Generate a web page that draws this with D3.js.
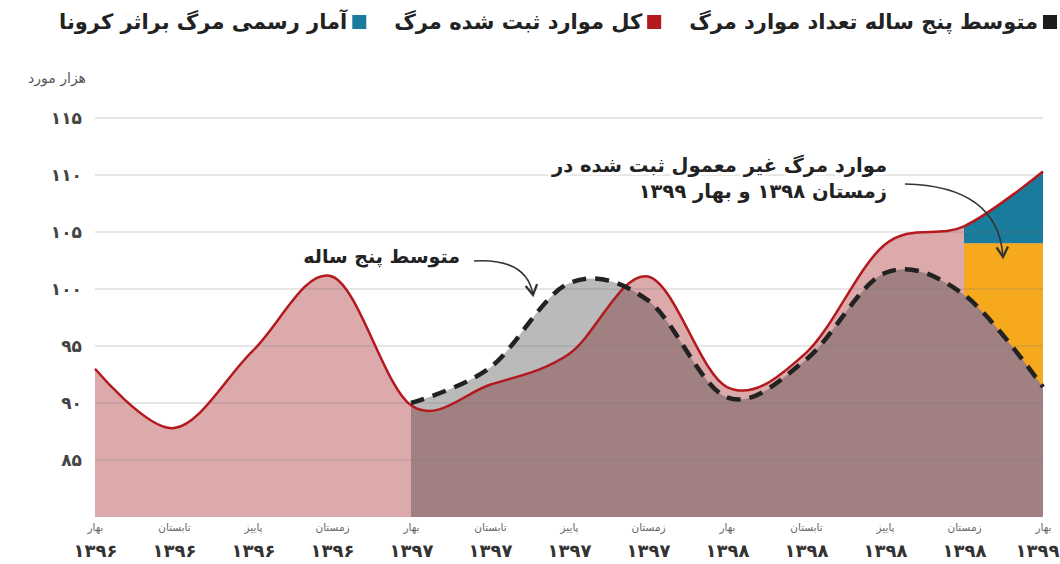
<!DOCTYPE html>
<html>
<head>
<meta charset="utf-8">
<script src="https://cdn.jsdelivr.net/npm/d3@7"></script>
<style>
  body { margin: 0; background: #fff; }
  text { font-family: "DejaVu Sans", sans-serif; }
</style>
</head>
<body>
<div id="chart"></div>
<script>
// quarters (season + year), left to right
var seasons = ["بهار", "تابستان", "پاییز", "زمستان", "بهار", "تابستان", "پاییز", "زمستان", "بهار", "تابستان", "پاییز", "زمستان", "بهار"];
var years   = ["۱۳۹۶", "۱۳۹۶", "۱۳۹۶", "۱۳۹۶", "۱۳۹۷", "۱۳۹۷", "۱۳۹۷", "۱۳۹۷", "۱۳۹۸", "۱۳۹۸", "۱۳۹۸", "۱۳۹۸", "۱۳۹۹"];

// thousand deaths
var totalDeaths = [93.0, 87.8, 94.6, 101.1, 89.8, 91.6, 94.3, 101.1, 91.4, 94.4, 103.9, 105.5, 110.3];
var fiveYearAvg = [null, null, null, null, 90.0, 93.1, 100.5, 99.0, 90.5, 93.8, 101.4, 99.5, 91.4];
// level under which deaths are not officially counted as covid (winter 98 & spring 99)
var covidStart = 11;
var covidLevel = 104;

var yTicks = [85, 90, 95, 100, 105, 110, 115];

var legendItems = [
  {label: "متوسط پنج ساله تعداد موارد مرگ", color: "#1d1d1d"},
  {label: "کل موارد ثبت شده مرگ", color: "#b3191f"},
  {label: "آمار رسمی مرگ براثر کرونا", color: "#1a7c9c"}
];

var faDigits = "۰۱۲۳۴۵۶۷۸۹";
function fa(n) { return String(n).replace(/[0-9]/g, function(d){ return faDigits[+d]; }); }

var W = 1060, H = 564;
var svg = d3.select("#chart").append("svg").attr("width", W).attr("height", H);

var x = d3.scaleLinear().domain([0, seasons.length - 1]).range([95, 1043]);
var y = d3.scaleLinear().domain([80, 115]).range([517, 118]);

var data = seasons.map(function(s, i){ return {i: i, total: totalDeaths[i], avg: fiveYearAvg[i]}; });
var avgData = data.filter(function(d){ return d.avg != null; });

var curve = d3.curveCardinal.tension(0);

var totalArea = d3.area().curve(curve)
  .x(function(d){ return x(d.i); }).y0(y(80)).y1(function(d){ return y(d.total); });
var avgArea = d3.area().curve(curve)
  .x(function(d){ return x(d.i); }).y0(y(80)).y1(function(d){ return y(d.avg); });
var totalLine = d3.line().curve(curve)
  .x(function(d){ return x(d.i); }).y(function(d){ return y(d.total); });
var avgLine = d3.line().curve(curve)
  .x(function(d){ return x(d.i); }).y(function(d){ return y(d.avg); });

var defs = svg.append("defs");
defs.append("clipPath").attr("id", "clip-total").append("path").attr("d", totalArea(data));
defs.append("clipPath").attr("id", "clip-avg").append("path").attr("d", avgArea(avgData));

var g = svg.append("g");

// all registered deaths
g.append("path").attr("d", totalArea(data)).attr("fill", "#dcaaab");
// five year average above registered
g.append("path").attr("d", avgArea(avgData)).attr("fill", "#bababa");

// covid block
var xc0 = x(covidStart), xc1 = x(seasons.length - 1);
g.append("rect")
  .attr("x", xc0).attr("width", xc1 - xc0)
  .attr("y", 0).attr("height", y(covidLevel))
  .attr("clip-path", "url(#clip-total)")
  .attr("fill", "#1a7c9c");
g.append("rect")
  .attr("x", xc0).attr("width", xc1 - xc0)
  .attr("y", y(covidLevel)).attr("height", y(80) - y(covidLevel))
  .attr("fill", "#f6a91d");

// overlap of registered and average
g.append("path").attr("d", totalArea(data))
  .attr("clip-path", "url(#clip-avg)")
  .attr("fill", "#a08080");

// grid
g.append("g").selectAll("line")
  .data(yTicks)
  .enter().append("line")
    .attr("x1", 95).attr("x2", 1043)
    .attr("y1", function(d){ return y(d); })
    .attr("y2", function(d){ return y(d); })
    .attr("stroke", "#777")
    .attr("stroke-opacity", 0.18)
    .attr("stroke-width", 2);

g.append("path").attr("d", totalLine(data))
  .attr("fill", "none").attr("stroke", "#b3191f").attr("stroke-width", 2.5);
g.append("path").attr("d", avgLine(avgData))
  .attr("fill", "none").attr("stroke", "#222").attr("stroke-width", 4.5)
  .attr("stroke-dasharray", "14,9");

// y axis
var yAxis = d3.axisLeft(y).tickValues(yTicks).tickSize(0).tickPadding(13)
  .tickFormat(function(d){ return fa(d); });
var ya = svg.append("g").attr("transform", "translate(95,0)").call(yAxis);
ya.select(".domain").remove();
ya.selectAll("text")
  .attr("font-size", 17).attr("font-weight", "bold").attr("fill", "#444");

svg.append("text")
  .attr("x", 86).attr("y", 83)
  .attr("text-anchor", "end")
  .attr("font-size", 14).attr("fill", "#555")
  .text("هزار مورد");

// x axis
var xAxis = d3.axisBottom(x).tickValues(d3.range(seasons.length)).tickSize(0).tickFormat("");
var xa = svg.append("g").attr("transform", "translate(0,517)").call(xAxis);
xa.select(".domain").remove();
xa.selectAll(".tick").append("text")
  .attr("y", 14).attr("text-anchor", "middle")
  .attr("font-size", 10.5).attr("fill", "#666")
  .text(function(d){ return seasons[d]; });
xa.selectAll(".tick").append("text")
  .attr("y", 40).attr("text-anchor", "middle")
  .attr("x", function(d){ return d === seasons.length - 1 ? -6 : 0; })
  .attr("font-size", 18).attr("font-weight", "bold").attr("fill", "#333")
  .text(function(d){ return years[d]; });

// annotations
defs.append("marker")
  .attr("id", "arrow").attr("viewBox", "0 0 10 10")
  .attr("refX", 8).attr("refY", 5)
  .attr("markerWidth", 9).attr("markerHeight", 9)
  .attr("orient", "auto")
  .append("path").attr("d", "M1,1 L8,5 L1,9")
  .attr("fill", "none").attr("stroke", "#333").attr("stroke-width", 1.6);

function note(lines, xr, y0, lh, fs) {
  var t = svg.append("text")
    .attr("text-anchor", "end")
    .attr("font-size", fs).attr("font-weight", "bold").attr("fill", "#222")
    .attr("stroke", "#fff").attr("stroke-width", 6).attr("paint-order", "stroke")
    .attr("stroke-linejoin", "round");
  lines.forEach(function(l, i){
    t.append("tspan").attr("x", xr).attr("y", y0 + i * lh).text(l);
  });
}

note(["متوسط پنج ساله"], 460, 263, 0, 19);
svg.append("path")
  .attr("d", "M474,261 Q527,258 533,295")
  .attr("fill", "none").attr("stroke", "#333").attr("stroke-width", 1.6)
  .attr("marker-end", "url(#arrow)");

note(["موارد مرگ غیر معمول ثبت شده در", "زمستان ۱۳۹۸ و بهار ۱۳۹۹"], 887, 172, 26, 19.5);
svg.append("path")
  .attr("d", "M905,184 Q998,186 1003,257")
  .attr("fill", "none").attr("stroke", "#333").attr("stroke-width", 1.6)
  .attr("marker-end", "url(#arrow)");

// legend (right to left)
var lx = 1057;
legendItems.forEach(function(it){
  svg.append("rect")
    .attr("x", lx - 14).attr("y", 15).attr("width", 14).attr("height", 14)
    .attr("fill", it.color);
  var t = svg.append("text")
    .attr("x", lx - 19).attr("y", 29)
    .attr("text-anchor", "end")
    .attr("font-size", 21).attr("font-weight", "bold").attr("fill", "#222")
    .text(it.label);
  lx = lx - 19 - t.node().getComputedTextLength() - 28;
});
</script>
</body>
</html>
